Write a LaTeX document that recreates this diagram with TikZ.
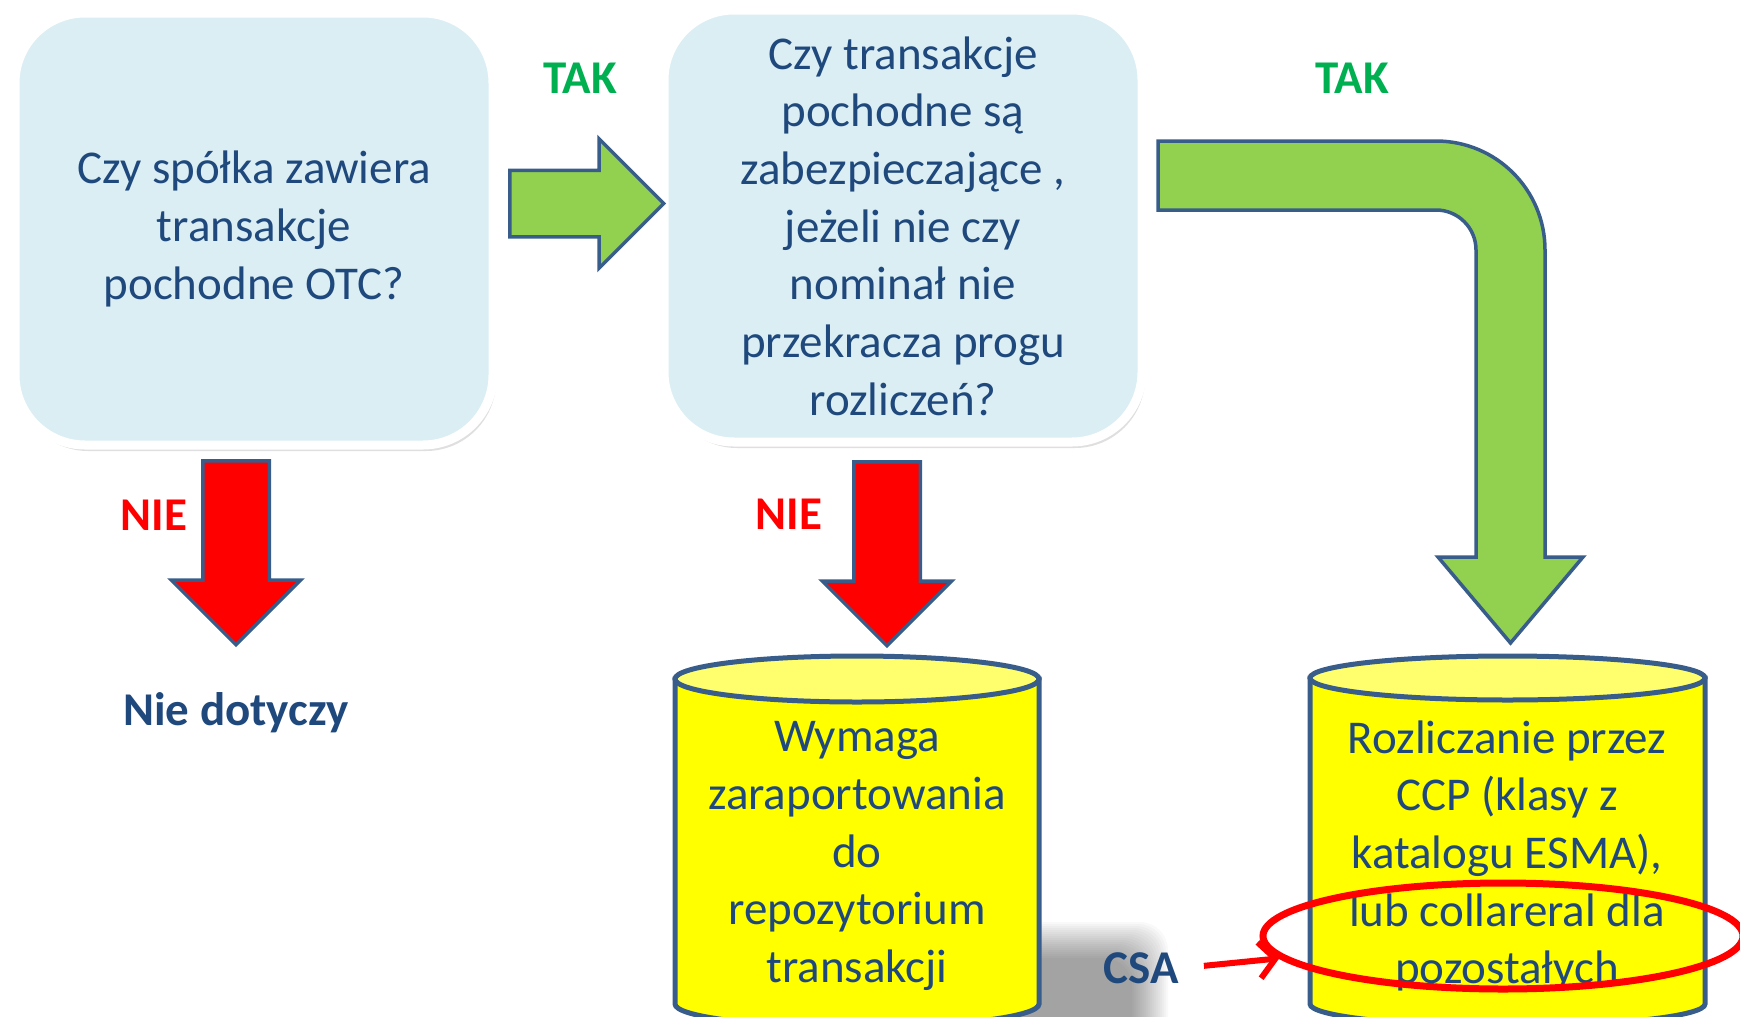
\documentclass[tikz,border=0pt]{standalone}
\usepackage{fontspec}
\setmainfont{Carlito}
\usepackage{tikz}
\usetikzlibrary{arrows.meta,shapes,positioning,shadows}
\definecolor{qblue}{RGB}{219,238,243}
\definecolor{qtext}{RGB}{31,73,125}
\definecolor{qedge}{RGB}{56,93,138}
\definecolor{qgreen}{RGB}{146,208,80}
\definecolor{taggreen}{RGB}{0,176,80}
\definecolor{cylbody}{RGB}{255,255,0}
\definecolor{cyltop}{RGB}{255,255,110}
\newcommand{\bigtext}{\fontsize{47}{57.7}\selectfont}
\tikzstyle{qbox} = [rectangle, rounded corners=70pt, minimum width=478pt, minimum height=432pt, fill=qblue, draw=white, line width=9pt, text=qtext, align=center, font=\bigtext, drop shadow={shadow xshift=3pt, shadow yshift=-6pt, opacity=0.25}]
\tikzstyle{fatarrow} = [single arrow, draw=qedge, line width=3.5pt, inner xsep=0pt, inner ysep=31.5pt, single arrow head extend=31.5pt, minimum width=126pt, anchor=tail]
\tikzstyle{cylside} = [draw=qedge, line width=5pt, fill=cylbody]
\tikzstyle{cyltext} = [text=qtext, align=center, font=\bigtext]
\tikzstyle{tag} = [font=\bigtext\bfseries]

\begin{document}
\begin{tikzpicture}[x=1pt, y=1pt]
\useasboundingbox (0,0) rectangle (1740,-1017);

% Questions
\node[qbox] (q1) at (254,-229) {Czy spółka zawiera\\transakcje\\pochodne OTC?};
\node[qbox] (q2) at (903,-226) {Czy transakcje\\pochodne są\\zabezpieczające ,\\jeżeli nie czy\\nominał nie\\przekracza progu\\rozliczeń?};

% Yes / no arrows
\node[fatarrow, fill=qgreen, minimum height=154pt] (yes1) at (508,-203.5) {};
\node[fatarrow, fill=red, minimum height=184pt, rotate=-90] (no1) at (236,-459) {};
\node[fatarrow, fill=red, minimum height=184pt, rotate=-90] (no2) at (887,-460) {};
\filldraw[draw=qedge, line width=3.5pt, fill=qgreen] (1158,-141) -- (1436,-141)
  arc[start angle=90, end angle=0, radius=109] -- (1545,-557) -- (1583,-557)
  -- (1510.5,-643) -- (1438,-557) -- (1476,-557) -- (1476,-250)
  arc[start angle=0, end angle=90, radius=40] -- (1158,-210) -- cycle;

% Labels
\node[tag, text=taggreen] (tak1) at (580,-78) {TAK};
\node[tag, text=taggreen] (tak2) at (1352,-78) {TAK};
\node[tag, text=red] (nie1) at (154,-515) {NIE};
\node[tag, text=red] (nie2) at (789,-514) {NIE};
\node[tag, text=qtext] (nd) at (236,-713) {Nie dotyczy};

% Cylinders (soft shadow first)
\foreach \s in {0,2,...,36}
  \fill[black, opacity=0.022, rounded corners=28pt] (760+\s,-922-\s) rectangle (1168-\s,-1100);
\filldraw[cylside] (675,-679) -- (675,-1004) arc[start angle=180, end angle=360, x radius=182, y radius=23] -- (1039,-679) -- cycle;
\filldraw[cylside, fill=cyltop] (857,-679) ellipse[x radius=182, y radius=23];
\filldraw[cylside] (1310,-678) -- (1310,-1004) arc[start angle=180, end angle=360, x radius=197.5, y radius=22] -- (1705,-678) -- cycle;
\filldraw[cylside, fill=cyltop] (1507.5,-678) ellipse[x radius=197.5, y radius=22];
\node[cyltext] (rep) at (857,-856) {Wymaga\\zaraportowania\\do\\repozytorium\\transakcji};
\node[cyltext] (ccp) at (1507,-856) {Rozliczanie przez\\CCP (klasy z\\katalogu ESMA),\\lub collareral dla\\pozostałych};

% CSA note
\node[ellipse, draw=red, line width=7pt, minimum width=480pt, minimum height=106pt] (collat) at (1503,-936) {};
\node[tag, text=qtext] (csa) at (1141,-968) {CSA};
\draw[red, line width=6pt, -{Straight Barb[length=16pt,width=36pt]}, shorten <=22pt] (csa.east) -- (collat);

\end{tikzpicture}
\end{document}
